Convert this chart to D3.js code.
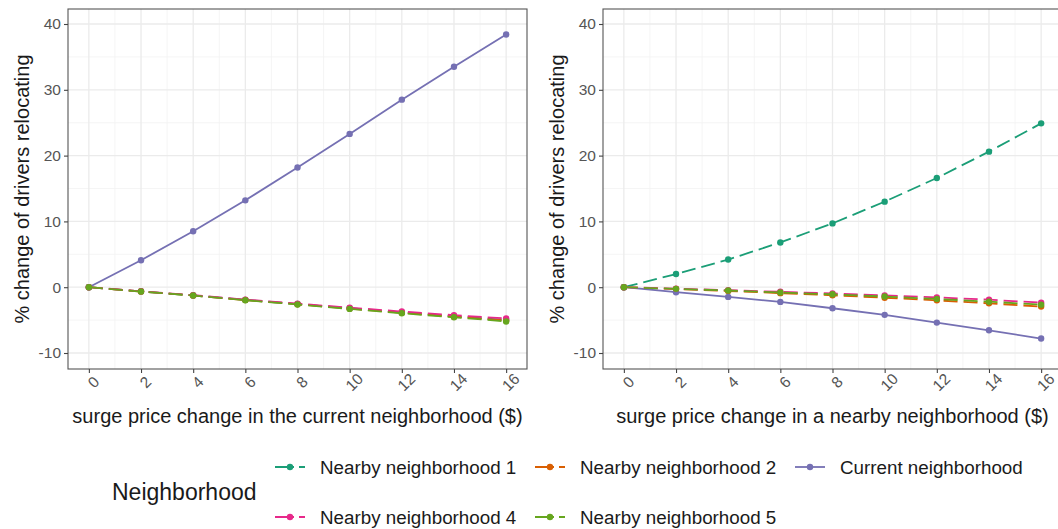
<!DOCTYPE html>
<html>
<head>
<meta charset="utf-8">
<script src="https://cdn.jsdelivr.net/npm/d3@7"></script>
<style>
  html, body { margin: 0; padding: 0; background: #fff; }
  svg { display: block; font-family: "Liberation Sans", Arial, Helvetica, sans-serif; }
</style>
</head>
<body>
<svg id="chart" width="1058" height="529"></svg>
<script>
// Surge price change ($) on the x axis
const priceSteps = [0, 2, 4, 6, 8, 10, 12, 14, 16];
const xTicks = [0, 2, 4, 6, 8, 10, 12, 14, 16];
const yTicks = [-10, 0, 10, 20, 30, 40];

const seriesNames = ["Nearby neighborhood 1", "Nearby neighborhood 2", "Current neighborhood",
                     "Nearby neighborhood 4", "Nearby neighborhood 5"];
const seriesColors = ["#1B9E77", "#D95F02", "#7570B3", "#E7298A", "#66A61E"];
const seriesDashed = [true, true, false, true, true];

// Panel A: surge price change in the current neighborhood
const currentN1 = [0, -0.64, -1.25, -1.93, -2.56, -3.2, -3.83, -4.42, -4.98];
const currentN2 = [0, -0.65, -1.26, -1.95, -2.58, -3.24, -3.88, -4.48, -5.06];
const currentCur = [0, 4.1, 8.5, 13.2, 18.2, 23.3, 28.5, 33.5, 38.4];
const currentN4 = [0, -0.62, -1.22, -1.88, -2.5, -3.1, -3.7, -4.25, -4.75];
const currentN5 = [0, -0.66, -1.27, -1.98, -2.62, -3.3, -3.96, -4.57, -5.2];

// Panel B: surge price change in a nearby neighborhood
const nearbyN1 = [0, 2.0, 4.2, 6.8, 9.7, 13.0, 16.6, 20.6, 24.9];
const nearbyN2 = [0, -0.28, -0.58, -0.9, -1.22, -1.6, -2.0, -2.45, -2.95];
const nearbyCur = [0, -0.76, -1.47, -2.23, -3.2, -4.2, -5.38, -6.55, -7.8];
const nearbyN4 = [0, -0.22, -0.45, -0.7, -0.95, -1.25, -1.55, -1.9, -2.35];
const nearbyN5 = [0, -0.25, -0.5, -0.8, -1.08, -1.42, -1.78, -2.2, -2.65];

const panels = [
  { left: 68, right: 527, title: "surge price change in the current neighborhood ($)",
    series: [currentN1, currentN2, currentCur, currentN4, currentN5] },
  { left: 603, right: 1062, title: "surge price change in a nearby neighborhood ($)",
    series: [nearbyN1, nearbyN2, nearbyCur, nearbyN4, nearbyN5] }
];

const plotTop = 9, plotBottom = 369;
const DASH = "14,6";
const svg = d3.select("#chart");

const y = d3.scaleLinear().domain([-12.43, 42.28]).range([plotBottom, plotTop]);
const plainNumber = d => String(d);

panels.forEach(p => {
  const x = d3.scaleLinear().domain([-0.8, 16.8]).range([p.left, p.right]);
  const g = svg.append("g");

  // grid: minor then major
  const minorX = d3.range(1, 17, 2);
  const minorY = d3.range(-5, 41, 10);
  g.selectAll(".gxm").data(minorX).join("line")
    .attr("x1", d => x(d)).attr("x2", d => x(d)).attr("y1", plotTop).attr("y2", plotBottom)
    .attr("stroke", "#F2F2F2").attr("stroke-width", 0.8);
  g.selectAll(".gym").data(minorY).join("line")
    .attr("y1", d => y(d)).attr("y2", d => y(d)).attr("x1", p.left).attr("x2", p.right)
    .attr("stroke", "#F2F2F2").attr("stroke-width", 0.8);
  g.selectAll(".gx").data(xTicks).join("line")
    .attr("x1", d => x(d)).attr("x2", d => x(d)).attr("y1", plotTop).attr("y2", plotBottom)
    .attr("stroke", "#EBEBEB").attr("stroke-width", 1.3);
  g.selectAll(".gy").data(yTicks).join("line")
    .attr("y1", d => y(d)).attr("y2", d => y(d)).attr("x1", p.left).attr("x2", p.right)
    .attr("stroke", "#EBEBEB").attr("stroke-width", 1.3);

  // series lines and points
  const line = d3.line().x((d, i) => x(priceSteps[i])).y(d => y(d));
  p.series.forEach((vals, si) => {
    g.append("path").datum(vals)
      .attr("d", line)
      .attr("fill", "none")
      .attr("stroke", seriesColors[si])
      .attr("stroke-width", 1.8)
      .attr("stroke-dasharray", seriesDashed[si] ? DASH : null);
    g.selectAll(null).data(vals).join("circle")
      .attr("cx", (d, i) => x(priceSteps[i]))
      .attr("cy", d => y(d))
      .attr("r", 3.2)
      .attr("fill", seriesColors[si]);
  });

  // panel border
  g.append("rect")
    .attr("x", p.left).attr("y", plotTop)
    .attr("width", p.right - p.left).attr("height", plotBottom - plotTop)
    .attr("fill", "none").attr("stroke", "#555").attr("stroke-width", 1.1);

  // y axis
  const yAxis = d3.axisLeft(y).tickValues(yTicks).tickFormat(plainNumber).tickSize(4).tickPadding(3);
  const ya = g.append("g").attr("transform", `translate(${p.left},0)`).call(yAxis);
  ya.select(".domain").remove();
  ya.selectAll(".tick line").attr("stroke", "#444").attr("stroke-width", 1.1);
  ya.selectAll(".tick text").attr("fill", "#555").style("font-size", "15.5px")
    .style("font-family", "Liberation Sans, Arial, sans-serif");

  // x axis with rotated labels
  const xAxis = d3.axisBottom(x).tickValues(xTicks).tickFormat(plainNumber).tickSize(4).tickPadding(0);
  const xa = g.append("g").attr("transform", `translate(0,${plotBottom})`).call(xAxis);
  xa.select(".domain").remove();
  xa.selectAll(".tick line").attr("stroke", "#444").attr("stroke-width", 1.1);
  xa.selectAll(".tick text")
    .attr("fill", "#555").style("font-size", "15.5px")
    .style("font-family", "Liberation Sans, Arial, sans-serif")
    .attr("text-anchor", "middle")
    .attr("dy", null).attr("y", null)
    .attr("transform", "translate(4,13) rotate(-45)")
    .attr("dominant-baseline", "central");

  // axis titles
  g.append("text")
    .attr("x", (p.left + p.right) / 2).attr("y", 423)
    .attr("text-anchor", "middle")
    .attr("fill", "#1A1A1A").style("font-size", "20px")
    .text(p.title);
  g.append("text")
    .attr("transform", `translate(${p.left - 46},${(plotTop + plotBottom) / 2}) rotate(-90)`)
    .attr("text-anchor", "middle").attr("dominant-baseline", "central")
    .attr("fill", "#1A1A1A").style("font-size", "20px")
    .text("% change of drivers relocating");
});

// legend
const legend = svg.append("g");
legend.append("text")
  .attr("x", 112).attr("y", 492)
  .attr("dominant-baseline", "central")
  .attr("fill", "#1A1A1A").style("font-size", "23px")
  .text("Neighborhood");

const colX = [275, 535, 795];
const rowY = [467, 517];
seriesNames.forEach((name, i) => {
  const col = i < 3 ? i : i - 3;
  const row = i < 3 ? 0 : 1;
  const kx = colX[col], ky = rowY[row];
  const item = legend.append("g");
  item.append("line")
    .attr("x1", kx).attr("x2", kx + 30).attr("y1", ky).attr("y2", ky)
    .attr("stroke", seriesColors[i]).attr("stroke-width", 1.8)
    .attr("stroke-dasharray", seriesDashed[i] ? "19,5" : null);
  item.append("circle").attr("cx", kx + 15).attr("cy", ky).attr("r", 3.2)
    .attr("fill", seriesColors[i]);
  item.append("text")
    .attr("x", kx + 45).attr("y", ky)
    .attr("dominant-baseline", "central")
    .attr("fill", "#1A1A1A").style("font-size", "18.8px")
    .text(name);
});
</script>
</body>
</html>
